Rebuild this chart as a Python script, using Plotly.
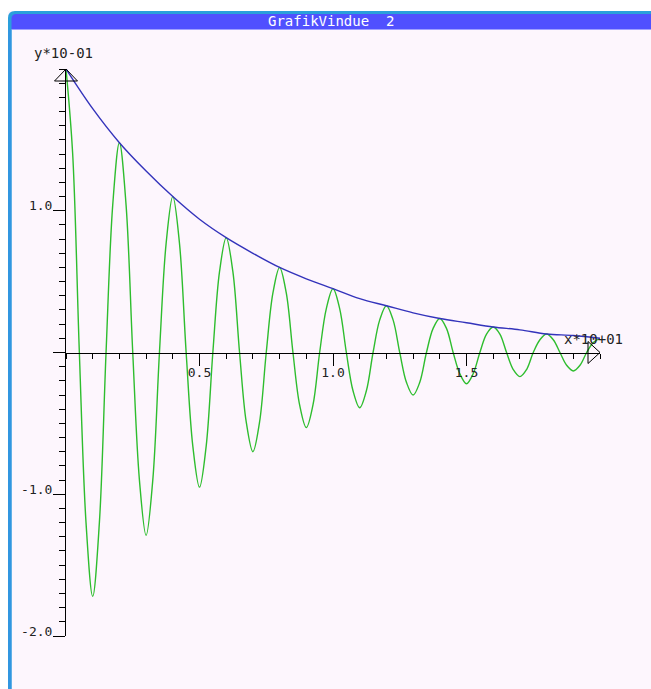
import plotly.graph_objects as go

# ---- data (displayed units: x*10+01, y*10-01) ----
env_x = [0.0, 0.1, 0.2, 0.3, 0.4, 0.5, 0.6, 0.7, 0.8, 0.9, 1.0,
         1.1, 1.2, 1.3, 1.4, 1.5, 1.6, 1.7, 1.8, 1.9, 2.0]
env_y = [2.00, 1.72, 1.48, 1.28, 1.10, 0.94, 0.81, 0.70, 0.60, 0.52, 0.45,
         0.38, 0.33, 0.28, 0.24, 0.21, 0.18, 0.16, 0.13, 0.12, 0.10]

# green oscillation: extrema, zero crossings, quarter points
osc_ext_x = [0.0, 0.1, 0.2, 0.3, 0.4, 0.5, 0.6, 0.7, 0.8, 0.9, 1.0,
             1.1, 1.2, 1.3, 1.4, 1.5, 1.6, 1.7, 1.8, 1.9, 2.0]
osc_ext_y = [2.00, -1.72, 1.48, -1.29, 1.10, -0.95, 0.81, -0.70, 0.60, -0.53, 0.45,
             -0.39, 0.33, -0.30, 0.24, -0.22, 0.18, -0.17, 0.13, -0.13, 0.10]
osc_zero_x = [0.05, 0.15, 0.25, 0.35, 0.45, 0.55, 0.65, 0.75, 0.85, 0.95,
              1.05, 1.15, 1.25, 1.35, 1.45, 1.55, 1.65, 1.75, 1.85, 1.95]
osc_q_x = [0.025, 0.075, 0.125, 0.175, 0.225, 0.275, 0.325, 0.375, 0.425, 0.475,
           0.525, 0.575, 0.625, 0.675, 0.725, 0.775, 0.825, 0.875, 0.925, 0.975,
           1.025, 1.075, 1.125, 1.175, 1.225, 1.275, 1.325, 1.375, 1.425, 1.475,
           1.525, 1.575, 1.625, 1.675, 1.725, 1.775, 1.825, 1.875, 1.925, 1.975]
osc_q_y = [1.40, -1.20, -1.20, 1.04, 1.04, -0.90, -0.90, 0.77, 0.77, -0.66,
           -0.66, 0.57, 0.57, -0.49, -0.49, 0.42, 0.42, -0.37, -0.37, 0.31,
           0.31, -0.27, -0.27, 0.23, 0.23, -0.21, -0.21, 0.17, 0.17, -0.15,
           -0.15, 0.13, 0.13, -0.12, -0.12, 0.09, 0.09, -0.09, -0.09, 0.07]

x_tickvals = [0.5, 1.0, 1.5]
x_ticktext = ["0.5", "1.0", "1.5"]
y_tickvals = [-2.0, -1.0, 0.0, 1.0]
y_ticktext = ["-2.0", "-1.0", "", "1.0"]

title_text = "GrafikVindue  2"
xlabel_text = "x*10+01"
ylabel_text = "y*10-01"

# merge green points in x order
pts = sorted(list(zip(osc_ext_x, osc_ext_y))
             + [(z, 0.0) for z in osc_zero_x]
             + list(zip(osc_q_x, osc_q_y)))
osc_x = [p[0] for p in pts]
osc_y = [p[1] for p in pts]

# ---- layout geometry ----
FW, FH = 651, 689
L, R, T, B = 66, 51, 69, 53
PW, PH = FW - L - R, FH - T - B


def fx(px):
    return (px - L) / PW


def fy(py):
    return (FH - B - py) / PH


PINK = "#fdf6fd"
FONT = "DejaVu Sans Mono"

fig = go.Figure()
fig.add_trace(go.Scatter(x=osc_x, y=osc_y, mode="lines",
                         line=dict(color="#2ebd2e", width=1.4, shape="spline", smoothing=1.0),
                         hoverinfo="skip", showlegend=False))
fig.add_trace(go.Scatter(x=env_x, y=env_y, mode="lines",
                         line=dict(color="#3333bb", width=1.4, shape="spline", smoothing=1.0),
                         hoverinfo="skip", showlegend=False))

shapes = []


def rect(x0, y0, x1, y1, color):
    shapes.append(dict(type="rect", xref="paper", yref="paper",
                       x0=fx(x0), x1=fx(x1), y0=fy(y1), y1=fy(y0),
                       fillcolor=color, line=dict(width=0), layer="above"))


def pxpath(path, color):
    # path in pixels relative to the window's top-left corner (8, 11); y grows upward
    shapes.append(dict(type="path", xref="paper", yref="paper",
                       xsizemode="pixel", ysizemode="pixel",
                       xanchor=fx(8), yanchor=fy(11), path=path,
                       fillcolor=color, line=dict(width=0), layer="above"))


rect(0, 0, 8, FH, "white")
rect(0, 0, FW, 11, "white")
# window frame with a rounded top-left corner
pxpath("M 0 -678 L 0 -7 Q 0 0 7 0 L 643 0 L 643 -19 L 3.5 -19 L 3.5 -678 Z", "#2a9fdc")
pxpath("M 3.5 -18 L 3.5 -8 Q 3.5 -3 8.5 -3 L 643 -3 L 643 -18 Z", "#5050ff")
rect(11.5, 29, FW, 30, "#a0a0ff")
rect(8, 30, 11.5, FH, "#3196e0")

# axis arrows (open triangles), anchored at the axis ends
shapes.append(dict(type="path", xref="paper", yref="paper", xsizemode="pixel", ysizemode="pixel",
                   xanchor=0.0, yanchor=1.0,
                   path="M -11.5 -12 L 0 0 L 11.5 -12 Z",
                   line=dict(color="black", width=1), fillcolor="rgba(0,0,0,0)", layer="above"))
shapes.append(dict(type="path", xref="paper", yref="paper", xsizemode="pixel", ysizemode="pixel",
                   xanchor=1.0, yanchor=0.5,
                   path="M -12 -11 L 0 0 L -12 11 Z",
                   line=dict(color="black", width=1), fillcolor="rgba(0,0,0,0)", layer="above"))

annotations = [
    dict(xref="paper", yref="paper", x=fx(331), y=fy(20.5), text=title_text, showarrow=False,
         xanchor="center", yanchor="middle", font=dict(family=FONT, size=14, color="white")),
    dict(xref="paper", yref="paper", x=fx(32), y=fy(53), text=ylabel_text, showarrow=False,
         xanchor="left", yanchor="middle", font=dict(family=FONT, size=14, color="#222222")),
    dict(xref="paper", yref="paper", x=fx(562), y=fy(339), text=xlabel_text, showarrow=False,
         xanchor="left", yanchor="middle", font=dict(family=FONT, size=14, color="#222222")),
]

fig.update_layout(
    width=FW, height=FH, autosize=False,
    margin=dict(l=L, r=R, t=T, b=B, pad=0),
    paper_bgcolor=PINK, plot_bgcolor=PINK,
    showlegend=False,
    shapes=shapes, annotations=annotations,
    xaxis=dict(range=[0, 2.0], showgrid=False, zeroline=False,
               showline=True, linecolor="black", linewidth=1,
               anchor="free", position=0.5,
               tickmode="array", tickvals=x_tickvals, ticktext=x_ticktext,
               ticks="outside", ticklen=12, tickcolor="black", tickwidth=1,
               minor=dict(dtick=0.1, tick0=0, ticks="outside", ticklen=5, tickcolor="black", tickwidth=1),
               tickfont=dict(family=FONT, size=13, color="#222222"),
               ticklabelstandoff=-4,
               fixedrange=True),
    yaxis=dict(range=[-2.0, 2.0], showgrid=False, zeroline=False,
               showline=True, linecolor="black", linewidth=1,
               tickmode="array", tickvals=y_tickvals, ticktext=y_ticktext,
               ticks="outside", ticklen=12, tickcolor="black", tickwidth=1,
               minor=dict(dtick=0.1, tick0=0, ticks="outside", ticklen=6, tickcolor="black", tickwidth=1),
               tickfont=dict(family=FONT, size=13, color="#222222"),
               ticklabelshift=-5, ticklabelstandoff=-2,
               fixedrange=True),
)

fig.write_html("out.html", config={"displayModeBar": False, "staticPlot": True},
               post_script="document.body.style.margin='0';document.body.style.overflow='hidden';")
